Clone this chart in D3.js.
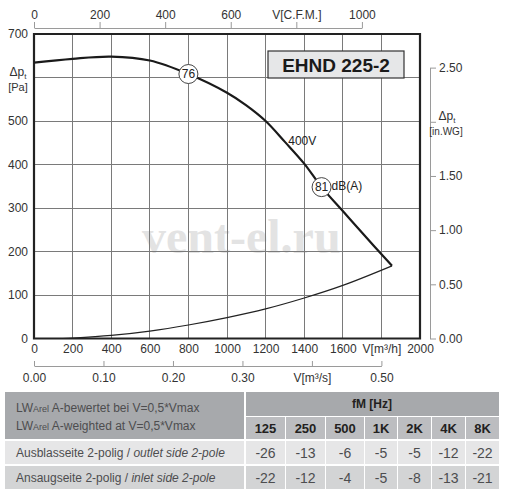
<!DOCTYPE html>
<meta charset="utf-8">
<style>
body { margin: 0; background: #fff; }
svg { font-family: "Liberation Sans", Arial, sans-serif; }
.tick text { fill: #333; font-size: 12px; }
.grid line { stroke: #7a7a7a; stroke-width: 1; shape-rendering: crispEdges; }
.gray .domain, .gray .tick line { stroke: #9a9a9a; }
</style>
<body>
<svg width="505" height="498"></svg>
<script src="https://d3js.org/d3.v7.min.js"></script>
<script>

// fan curve 400V (V in m3/h, dp in Pa)
var fanV  = [0, 200, 400, 600, 800, 1000, 1100, 1200, 1300, 1400, 1490, 1600, 1700, 1855];
var fanP  = [634, 643, 648, 639, 608, 565, 536, 500, 452, 402, 348, 293, 243, 167];
// system curve
var sysV  = [150, 200, 400, 600, 800, 1000, 1200, 1400, 1600, 1855];
var sysP  = [0, 1, 7, 17, 31, 48, 68, 93, 122, 167];
// dB(A) markers on the fan curve
var markV = [800, 1490];
var markP = [608, 348];
var markT = ["76", "81"];

var paTicks   = [0, 100, 200, 300, 400, 500, 600, 700];
var m3hTicks  = [0, 200, 400, 600, 800, 1000, 1200, 1400, 1600, 1800, 2000];
var cfmTicks  = [0, 200, 400, 600, 800, 1000];
var m3sTicks  = [0, 0.1, 0.2, 0.3, 0.4, 0.5];
var inwgTicks = [0, 0.5, 1.0, 1.5, 2.0, 2.5];

// sound table
var freqs  = ["125", "250", "500", "1K", "2K", "4K", "8K"];
var outlet = [-26, -13, -6, -5, -5, -12, -22];
var inlet  = [-22, -12, -4, -5, -8, -13, -21];

var svg = d3.select("svg");
var pL = 34, pR = 420, pT = 34, pB = 338.5;

var x = d3.scaleLinear().domain([0, 2000]).range([pL, pR]);
var y = d3.scaleLinear().domain([0, 700]).range([pB, pT]);

// watermark
svg.append("text")
    .attr("x", 142).attr("y", 253)
    .style("font-family", "Liberation Serif, serif")
    .style("font-weight", "bold")
    .style("font-size", "48px")
    .style("fill", "#e3e3e3")
    .text("vent-el.ru");

// grid
var grid = svg.append("g").attr("class", "grid");
grid.selectAll(".vx").data(m3hTicks.slice(1, -1)).enter().append("line")
    .attr("x1", x).attr("x2", x).attr("y1", pT).attr("y2", pB);
grid.selectAll(".hy").data(paTicks.slice(1, -1)).enter().append("line")
    .attr("x1", pL).attr("x2", pR).attr("y1", y).attr("y2", y);

// frame
svg.append("path")
    .attr("d", "M" + pL + "," + pT + "H" + pR + "V" + pB + "H" + pL + "Z")
    .attr("fill", "none").attr("stroke", "#222").attr("stroke-width", 2.2);

// left axis (Pa) - 600 slot holds the axis title
svg.append("g")
    .attr("transform", "translate(" + pL + ",0)")
    .call(d3.axisLeft(y).tickValues(paTicks).tickSize(0).tickPadding(6)
        .tickFormat(function(d) { return d === 600 ? "" : d; }))
    .call(function(g) { g.select(".domain").remove(); });

// bottom axis (m3/h)
svg.append("g")
    .attr("transform", "translate(0," + pB + ")")
    .call(d3.axisBottom(x).tickValues(m3hTicks).tickSize(0).tickPadding(6)
        .tickFormat(function(d) { return d === 1800 ? "V[m³/h]" : d; }))
    .call(function(g) { g.select(".domain").remove(); });

// top axis (CFM)
var xCfm = d3.scaleLinear().domain([0, 1000]).range([pL, x(1000 * 1.699)]);
svg.append("g").attr("class", "gray")
    .attr("transform", "translate(0,28)")
    .call(d3.axisTop(xCfm).tickValues(cfmTicks).tickSize(6).tickSizeOuter(0).tickPadding(3)
        .tickFormat(function(d) { return d === 800 ? "V[C.F.M.]" : d; }));

// lower axis (m3/s)
var xM3s = d3.scaleLinear().domain([0, 0.5]).range([pL, x(1800)]);
svg.append("g").attr("class", "gray")
    .attr("transform", "translate(0,366)")
    .call(d3.axisBottom(xM3s).tickValues(m3sTicks).tickSize(-5).tickSizeOuter(0).tickPadding(7)
        .tickFormat(function(d) { return d === 0.4 ? "V[m³/s]" : d3.format(".2f")(d); }));

// right axis (in.WG) - 2.00 slot holds the axis title
var yIn = d3.scaleLinear().domain([0, 2.5]).range([pB, y(2.5 * 249.09)]);
svg.append("g").attr("class", "gray")
    .attr("transform", "translate(430,0)")
    .call(d3.axisRight(yIn).tickValues(inwgTicks).tickSize(6).tickSizeOuter(0).tickPadding(3)
        .tickFormat(function(d) { return d === 2 ? "" : d3.format(".2f")(d); }));

// axis titles
function dpLabel(px, py, size) {
    var t = svg.append("text").attr("x", px).attr("y", py)
        .attr("text-anchor", "middle").style("font-size", size + "px").style("fill", "#333");
    t.append("tspan").text("Δp");
    t.append("tspan").attr("dy", 3).style("font-size", (size - 4) + "px").text("t");
}
dpLabel(18, 76, 12);
svg.append("text").attr("x", 18).attr("y", 91).attr("text-anchor", "middle")
    .style("font-size", "11px").style("fill", "#333").text("[Pa]");
dpLabel(447, 120, 12);
svg.append("text").attr("x", 446).attr("y", 135).attr("text-anchor", "middle")
    .style("font-size", "10px").style("fill", "#333").text("[in.WG]");

// curves
var line = d3.line().curve(d3.curveCatmullRom.alpha(0.5))
    .x(function(d) { return x(d[0]); })
    .y(function(d) { return y(d[1]); });

svg.append("path")
    .datum(d3.zip(sysV, sysP))
    .attr("d", line)
    .attr("fill", "none").attr("stroke", "#222").attr("stroke-width", 1.2);

svg.append("path")
    .datum(d3.zip(fanV, fanP))
    .attr("d", line)
    .attr("fill", "none").attr("stroke", "#1a1a1a").attr("stroke-width", 2.2);

svg.append("text").attr("x", x(1390)).attr("y", y(445))
    .attr("text-anchor", "middle").style("font-size", "12px").style("fill", "#222").text("400V");

var marks = svg.selectAll(".mark").data(d3.zip(markV, markP, markT)).enter().append("g")
    .attr("transform", function(d) { return "translate(" + x(d[0]) + "," + y(d[1]) + ")"; });
marks.append("circle").attr("r", 9.5)
    .attr("fill", "#fff").attr("stroke", "#444").attr("stroke-width", 1);
marks.append("text").attr("text-anchor", "middle").attr("dy", "0.36em")
    .style("font-size", "12px").style("fill", "#222").text(function(d) { return d[2]; });
svg.append("text").attr("x", x(markV[1]) + 10).attr("y", y(markP[1]) - 1)
    .attr("dy", "0.36em").style("font-size", "12px").style("fill", "#222").text("dB(A)");

// title box
svg.append("rect").attr("x", 268).attr("y", 51).attr("width", 136).attr("height", 27)
    .attr("fill", "#e6e7e8").attr("stroke", "#333").attr("stroke-width", 1.2);
svg.append("text").attr("x", 336).attr("y", 71.5).attr("text-anchor", "middle")
    .style("font-size", "19px").style("font-weight", "bold").style("fill", "#1a1a1a")
    .text("EHND 225-2");

// table
var colEdges = [245, 285, 325, 364, 397, 431, 465, 499];
var tbl = svg.append("g");
tbl.append("rect").attr("x", 5).attr("y", 392).attr("width", 239).attr("height", 47).attr("fill", "#a7a9ac");
tbl.append("rect").attr("x", 246).attr("y", 392).attr("width", 253).attr("height", 24).attr("fill", "#a7a9ac");
tbl.append("text").attr("x", 372).attr("y", 408).attr("text-anchor", "middle")
    .style("font-size", "12px").style("font-weight", "bold").style("fill", "#231f20").text("fM [Hz]");

function hdrLine(py, rest) {
    var t = tbl.append("text").attr("x", 16).attr("y", py).style("font-size", "12px").style("fill", "#4d4d4f");
    t.append("tspan").text("LW");
    t.append("tspan").style("font-size", "9px").text("Arel");
    t.append("tspan").text(" " + rest);
}
hdrLine(412, "A-bewertet bei V=0,5*Vmax");
hdrLine(430, "A-weighted at V=0,5*Vmax");

freqs.forEach(function(f, i) {
    var x0 = colEdges[i] + 1, w = colEdges[i + 1] - colEdges[i] - 1;
    tbl.append("rect").attr("x", x0).attr("y", 417).attr("width", w).attr("height", 22).attr("fill", "#bcbdc0");
    tbl.append("text").attr("x", x0 + w / 2).attr("y", 433).attr("text-anchor", "middle")
        .style("font-size", "13px").style("font-weight", "bold").style("fill", "#231f20").text(f);
});

var rows = [
    {de: "Ausblasseite 2-polig / ", en: "outlet side 2-pole", vals: outlet, fill: "#e6e6e7", y0: 441},
    {de: "Ansaugseite 2-polig / ", en: "inlet side 2-pole", vals: inlet, fill: "#d3d4d5", y0: 466}
];
rows.forEach(function(r) {
    tbl.append("rect").attr("x", 5).attr("y", r.y0).attr("width", 239).attr("height", 23).attr("fill", r.fill);
    var t = tbl.append("text").attr("x", 16).attr("y", r.y0 + 16)
        .style("font-size", "12px").style("fill", "#4d4d4f");
    t.append("tspan").text(r.de);
    t.append("tspan").style("font-style", "italic").text(r.en);
    r.vals.forEach(function(v, i) {
        var x0 = colEdges[i] + 1, w = colEdges[i + 1] - colEdges[i] - 1;
        tbl.append("rect").attr("x", x0).attr("y", r.y0).attr("width", w).attr("height", 23).attr("fill", r.fill);
        tbl.append("text").attr("x", x0 + w / 2).attr("y", r.y0 + 17).attr("text-anchor", "middle")
            .style("font-size", "14px").style("fill", "#4d4d4f").text(v);
    });
});

</script>
